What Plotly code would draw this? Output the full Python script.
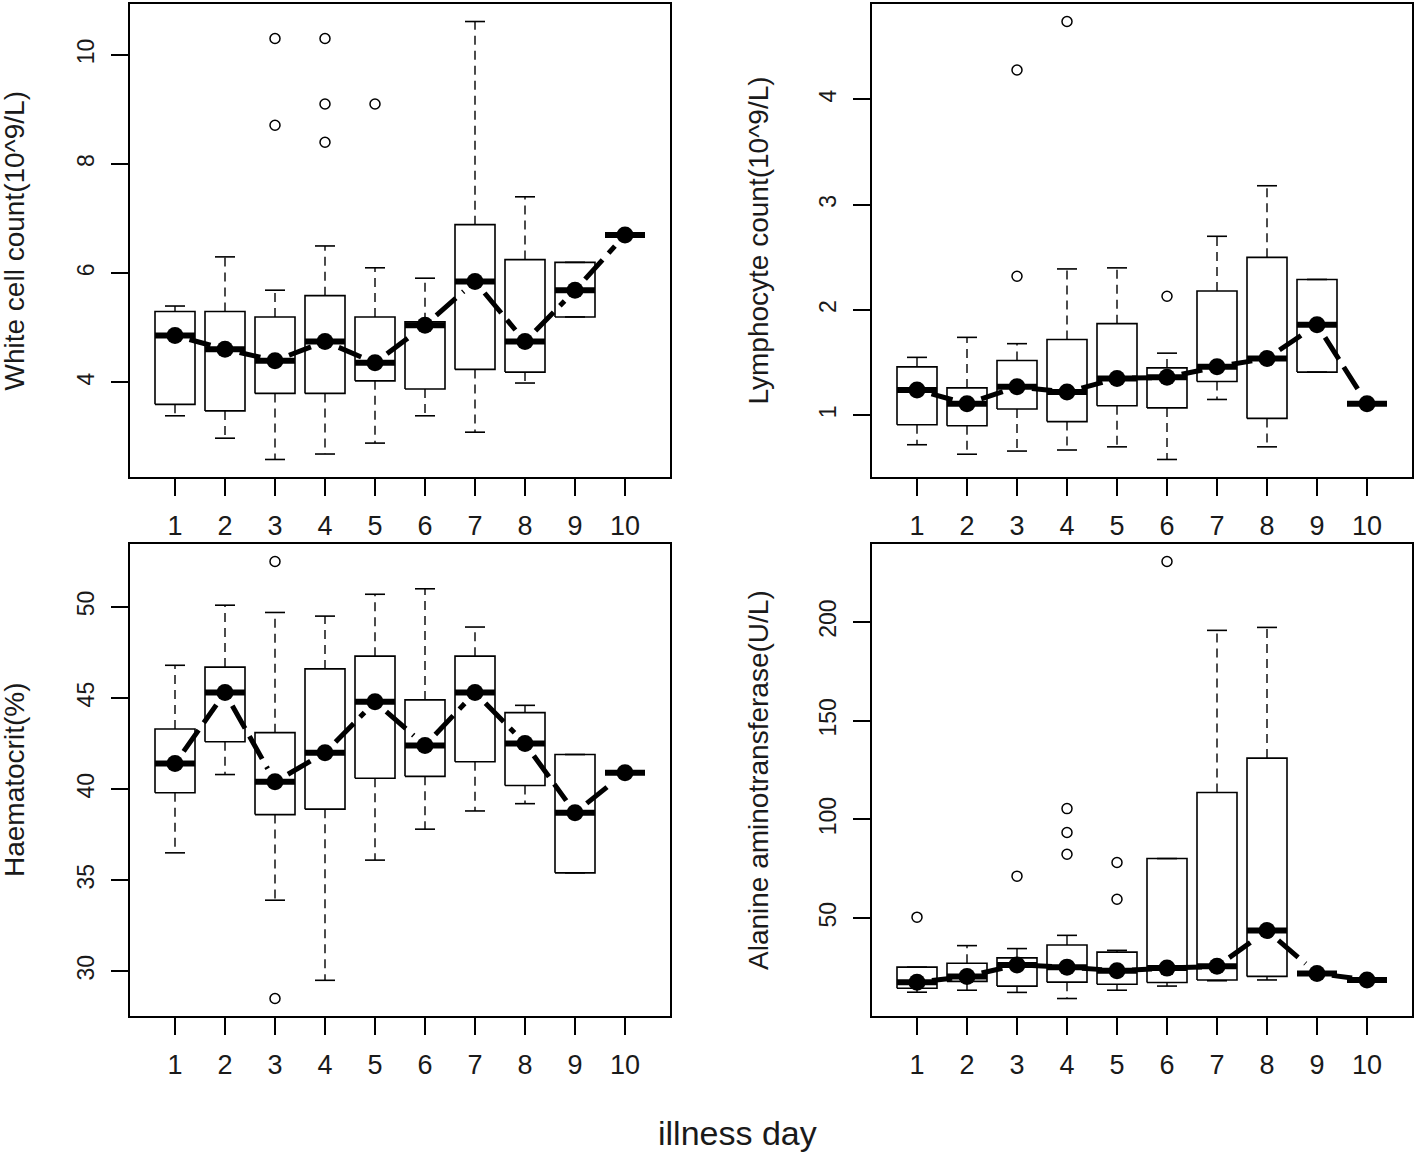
import math
import plotly.graph_objects as go

W, H = 1418, 1154
FONT = "Liberation Sans, Arial, Helvetica, sans-serif"

days = list(range(1, 11))
day_labels = [str(d) for d in days]

# ---- Panel 1: White cell count ----
wbc_whi = [5.40, 6.30, 5.69, 6.50, 6.10, 5.91, 10.61, 7.40, 6.20, 6.70]
wbc_q3 = [5.30, 5.30, 5.20, 5.59, 5.20, 5.11, 6.89, 6.25, 6.20, 6.70]
wbc_med = [4.86, 4.61, 4.40, 4.75, 4.36, 5.05, 5.85, 4.75, 5.69, 6.70]
wbc_q1 = [3.60, 3.48, 3.80, 3.80, 4.03, 3.88, 4.24, 4.19, 5.20, 6.70]
wbc_wlo = [3.39, 2.98, 2.59, 2.69, 2.89, 3.39, 3.09, 3.99, 5.20, 6.70]
wbc_out_day = [3, 3, 4, 4, 4, 5]
wbc_out_val = [10.30, 8.71, 10.30, 9.10, 8.40, 9.10]
wbc_ticks = [4, 6, 8, 10]

# ---- Panel 2: Lymphocyte count ----
lym_whi = [1.55, 1.74, 1.68, 2.39, 2.40, 1.59, 2.70, 3.18, 2.29, 1.11]
lym_q3 = [1.46, 1.26, 1.52, 1.72, 1.87, 1.45, 2.18, 2.50, 2.29, 1.11]
lym_med = [1.24, 1.11, 1.27, 1.22, 1.35, 1.36, 1.46, 1.54, 1.86, 1.11]
lym_q1 = [0.91, 0.90, 1.06, 0.94, 1.09, 1.07, 1.32, 0.97, 1.41, 1.11]
lym_wlo = [0.72, 0.63, 0.66, 0.67, 0.70, 0.58, 1.15, 0.70, 1.41, 1.11]
lym_out_day = [3, 3, 4, 6]
lym_out_val = [4.28, 2.32, 4.74, 2.13]
lym_ticks = [1, 2, 3, 4]

# ---- Panel 3: Haematocrit ----
hct_whi = [46.8, 50.1, 49.7, 49.5, 50.7, 51.0, 48.9, 44.6, 41.9, 40.9]
hct_q3 = [43.3, 46.7, 43.1, 46.6, 47.3, 44.9, 47.3, 44.2, 41.9, 40.9]
hct_med = [41.4, 45.3, 40.4, 42.0, 44.8, 42.4, 45.3, 42.5, 38.7, 40.9]
hct_q1 = [39.8, 42.6, 38.6, 38.9, 40.6, 40.7, 41.5, 40.2, 35.4, 40.9]
hct_wlo = [36.5, 40.8, 33.9, 29.5, 36.1, 37.8, 38.8, 39.2, 35.4, 40.9]
hct_out_day = [3, 3]
hct_out_val = [52.5, 28.5]
hct_ticks = [30, 35, 40, 45, 50]

# ---- Panel 4: Alanine aminotransferase ----
alt_whi = [25.2, 36.1, 34.6, 41.3, 33.7, 80.2, 195.8, 197.3, 22.0, 18.7]
alt_q3 = [25.2, 27.2, 29.9, 36.4, 32.8, 80.2, 113.7, 131.1, 22.0, 18.7]
alt_med = [17.5, 20.5, 26.3, 25.2, 23.4, 24.7, 25.6, 43.7, 22.0, 18.7]
alt_q1 = [14.5, 18.0, 15.6, 17.6, 16.5, 17.4, 18.7, 20.5, 22.0, 18.7]
alt_wlo = [12.5, 13.5, 12.4, 9.3, 13.5, 15.6, 18.3, 18.7, 22.0, 18.7]
alt_out_day = [1, 3, 4, 4, 4, 5, 5, 6]
alt_out_val = [50.5, 71.3, 105.5, 93.4, 82.4, 78.2, 59.6, 230.7]
alt_ticks = [50, 100, 150, 200]

panels = [
    dict(whi=wbc_whi, q3=wbc_q3, med=wbc_med, q1=wbc_q1, wlo=wbc_wlo,
         od=wbc_out_day, ov=wbc_out_val, ticks=wbc_ticks,
         title="White cell count(10^9/L)", px=(130, 670), py=(4, 477), tx=14),
    dict(whi=lym_whi, q3=lym_q3, med=lym_med, q1=lym_q1, wlo=lym_wlo,
         od=lym_out_day, ov=lym_out_val, ticks=lym_ticks,
         title="Lymphocyte count(10^9/L)", px=(872, 1412), py=(4, 477), tx=758),
    dict(whi=hct_whi, q3=hct_q3, med=hct_med, q1=hct_q1, wlo=hct_wlo,
         od=hct_out_day, ov=hct_out_val, ticks=hct_ticks,
         title="Haematocrit(%)", px=(130, 670), py=(544, 1016), tx=14),
    dict(whi=alt_whi, q3=alt_q3, med=alt_med, q1=alt_q1, wlo=alt_wlo,
         od=alt_out_day, ov=alt_out_val, ticks=alt_ticks,
         title="Alanine aminotransferase(U/L)", px=(872, 1412), py=(544, 1016), tx=758),
]

BOXHALF = 0.4
STAPLEHALF = 0.2
XRANGE = [0.1, 10.9]
POINT_GAP = 15  # px gap around points (R type="b")


def fx(X):
    return X / W


def fy(Y):
    return 1 - Y / H


fig = go.Figure()
layout_axes = {}
annotations = []

for i, p in enumerate(panels):
    n = i + 1
    xa = "x" if n == 1 else f"x{n}"
    ya = "y" if n == 1 else f"y{n}"
    l, r = p["px"]
    t, b = p["py"]

    allv = p["wlo"] + p["whi"] + p["ov"]
    lo, hi = min(allv), max(allv)
    pad = 0.04 * (hi - lo)
    yr = [lo - pad, hi + pad]

    # whiskers (dashed)
    wx, wy = [], []
    for d, wl, a, bq, wh in zip(days, p["wlo"], p["q1"], p["q3"], p["whi"]):
        wx += [d, d, None, d, d, None]
        wy += [bq, wh, None, a, wl, None]
    fig.add_trace(go.Scatter(x=wx, y=wy, mode="lines", xaxis=xa, yaxis=ya,
                             line=dict(color="black", width=1.4, dash="9px,6px"),
                             hoverinfo="skip", showlegend=False))
    # staples
    sx, sy = [], []
    for d, wl, wh in zip(days, p["wlo"], p["whi"]):
        sx += [d - STAPLEHALF, d + STAPLEHALF, None, d - STAPLEHALF, d + STAPLEHALF, None]
        sy += [wh, wh, None, wl, wl, None]
    fig.add_trace(go.Scatter(x=sx, y=sy, mode="lines", xaxis=xa, yaxis=ya,
                             line=dict(color="black", width=1.6),
                             hoverinfo="skip", showlegend=False))
    # boxes
    bx, by = [], []
    for d, a, bq in zip(days, p["q1"], p["q3"]):
        bx += [d - BOXHALF, d + BOXHALF, d + BOXHALF, d - BOXHALF, d - BOXHALF, None]
        by += [a, a, bq, bq, a, None]
    fig.add_trace(go.Scatter(x=bx, y=by, mode="lines", xaxis=xa, yaxis=ya,
                             line=dict(color="black", width=1.6),
                             hoverinfo="skip", showlegend=False))
    # medians (thick)
    mx, my = [], []
    for d, m in zip(days, p["med"]):
        mx += [d - BOXHALF, d + BOXHALF, None]
        my += [m, m, None]
    fig.add_trace(go.Scatter(x=mx, y=my, mode="lines", xaxis=xa, yaxis=ya,
                             line=dict(color="black", width=6),
                             hoverinfo="skip", showlegend=False))
    # outliers
    fig.add_trace(go.Scatter(x=p["od"], y=p["ov"], mode="markers", xaxis=xa, yaxis=ya,
                             marker=dict(symbol="circle-open", size=10, color="black",
                                         line=dict(width=1.5, color="black")),
                             hoverinfo="skip", showlegend=False))
    # median connector: dashed segments with gaps around points (type="b")
    pxu = (r - l) / (XRANGE[1] - XRANGE[0])
    pyu = (b - t) / (yr[1] - yr[0])
    cx, cy = [], []
    for k in range(len(days) - 1):
        x0, y0 = days[k], p["med"][k]
        x1, y1 = days[k + 1], p["med"][k + 1]
        dxp, dyp = (x1 - x0) * pxu, (y1 - y0) * pyu
        L = math.hypot(dxp, dyp)
        if L <= 2 * POINT_GAP:
            continue
        f = POINT_GAP / L
        cx += [x0 + f * (x1 - x0), x1 - f * (x1 - x0), None]
        cy += [y0 + f * (y1 - y0), y1 - f * (y1 - y0), None]
    fig.add_trace(go.Scatter(x=cx, y=cy, mode="lines", xaxis=xa, yaxis=ya,
                             line=dict(color="black", width=5, dash="26px,9px"),
                             hoverinfo="skip", showlegend=False))
    fig.add_trace(go.Scatter(x=days, y=p["med"], mode="markers", xaxis=xa, yaxis=ya,
                             marker=dict(symbol="circle", size=17, color="black"),
                             hoverinfo="skip", showlegend=False))

    xkey = "xaxis" if n == 1 else f"xaxis{n}"
    ykey = "yaxis" if n == 1 else f"yaxis{n}"
    layout_axes[xkey] = dict(
        domain=[fx(l), fx(r)], anchor=ya, range=XRANGE,
        tickvals=days, ticktext=day_labels, showline=True, mirror=True,
        linecolor="black", linewidth=1.5, ticks="outside", ticklen=17, tickwidth=1.5,
        tickcolor="black", showgrid=False, zeroline=False,
        tickfont=dict(family=FONT, size=27, color="#1a1a1a"), ticklabelstandoff=7)
    layout_axes[ykey] = dict(
        domain=[fy(b), fy(t)], anchor=xa, range=yr,
        tickvals=p["ticks"], ticktext=[str(v) for v in p["ticks"]], tickangle=-90,
        showline=True, mirror=True, linecolor="black", linewidth=1.5, ticks="outside",
        ticklen=17, tickwidth=1.5, tickcolor="black", showgrid=False, zeroline=False,
        tickfont=dict(family=FONT, size=23, color="#1a1a1a"), ticklabelstandoff=8)

    annotations.append(dict(text=p["title"], x=fx(p["tx"]), y=fy((t + b) / 2),
                            xref="paper", yref="paper", xanchor="center", yanchor="middle",
                            textangle=-90, showarrow=False,
                            font=dict(family=FONT, size=28, color="#1a1a1a")))

annotations.append(dict(text="illness day", x=fx(737), y=fy(1133), xref="paper", yref="paper",
                        xanchor="center", yanchor="middle", showarrow=False,
                        font=dict(family=FONT, size=34, color="#1a1a1a")))

fig.update_layout(width=W, height=H, margin=dict(l=0, r=0, t=0, b=0),
                  paper_bgcolor="white", plot_bgcolor="white",
                  annotations=annotations, **layout_axes)

fig.write_html("out.html", config={"displayModeBar": False},
               post_script="document.body.style.margin='0';document.body.style.overflow='hidden';")
